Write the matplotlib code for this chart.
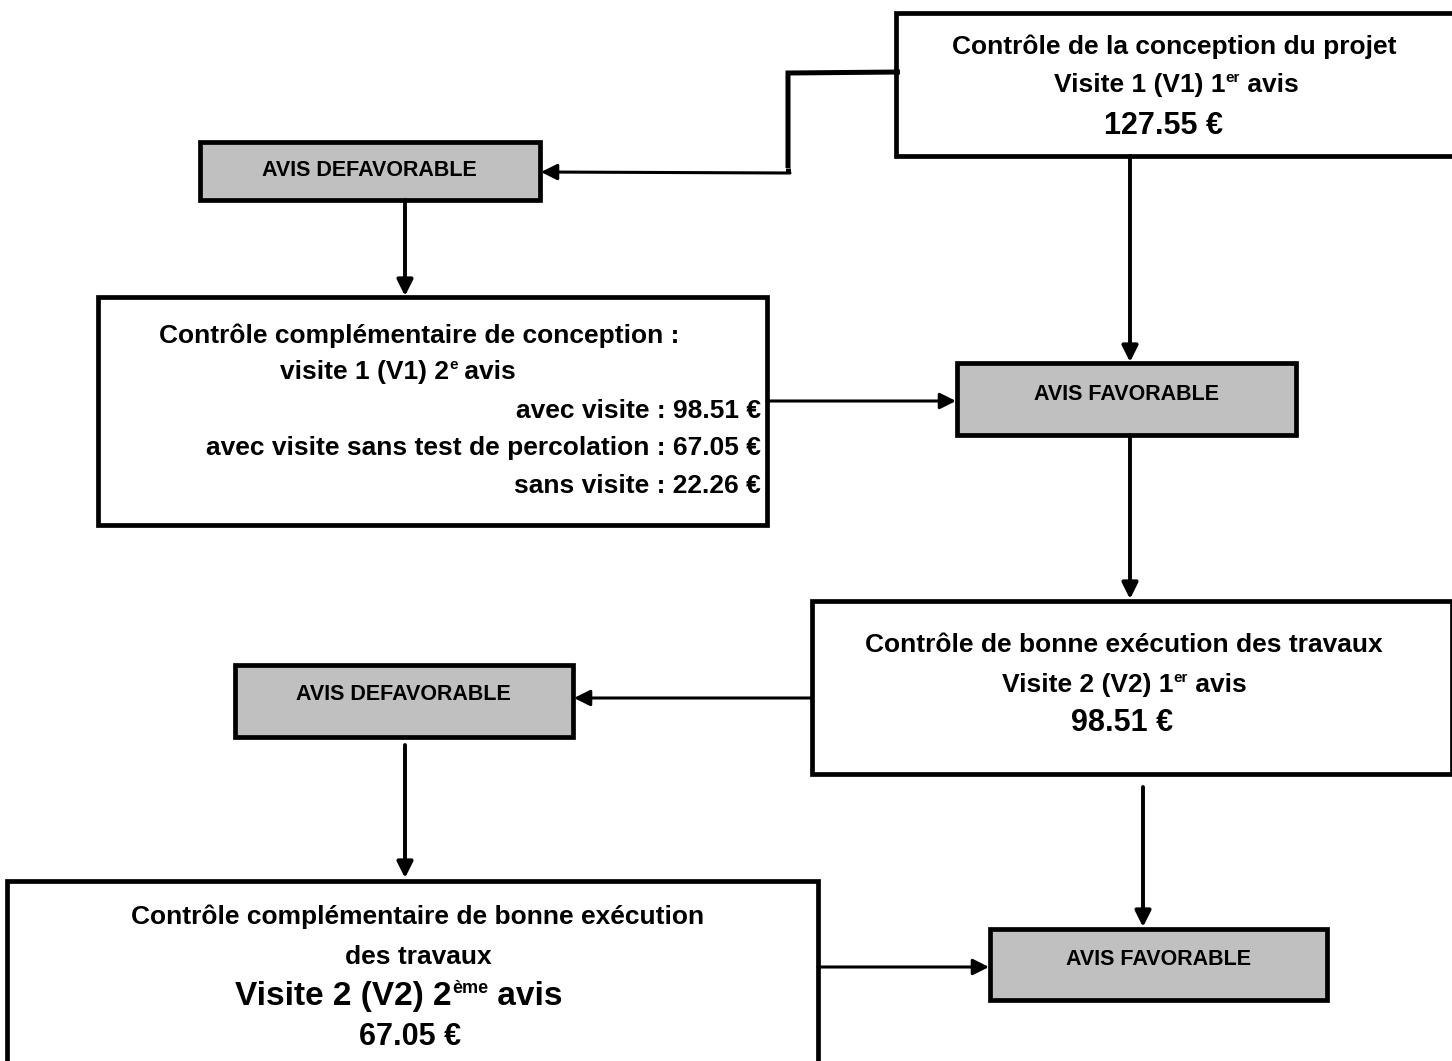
import matplotlib
matplotlib.use("Agg")
import matplotlib.pyplot as plt
from matplotlib.patches import Rectangle

# ---- data (texts and prices) ----
prix_v1_1er = "127.55 €"
prix_v1_2e_avec = "98.51 €"
prix_v1_2e_sans_perco = "67.05 €"
prix_v1_2e_sans = "22.26 €"
prix_v2_1er = "98.51 €"
prix_v2_2e = "67.05 €"
label_def = "AVIS DEFAVORABLE"
label_fav = "AVIS FAVORABLE"

FONT = ["Liberation Sans Narrow", "Liberation Sans", "DejaVu Sans"]
plt.rcParams["font.family"] = FONT
plt.rcParams["font.weight"] = "bold"

W, H = 1452, 1061
fig = plt.figure(figsize=(W / 100, H / 100), dpi=100)
ax = fig.add_axes([0, 0, 1, 1])
ax.set_xlim(0, W)
ax.set_ylim(H, 0)
ax.axis("off")

BOX_LW = 3.4
renderer = fig.canvas.get_renderer()


def box(x0, y0, x1, y1, gray=False):
    ax.add_patch(Rectangle((x0, y0), x1 - x0, y1 - y0,
                           facecolor="#c0c0c0" if gray else "white",
                           edgecolor="black", lw=BOX_LW, zorder=2))


def rich_line(x, y, segments, ha="center"):
    """segments: list of (text, size, is_sup)"""
    arts = []
    widths = []
    for txt, size, sup in segments:
        t = ax.text(0, y, txt, fontsize=size, fontweight="bold", ha="left",
                    va="baseline", zorder=5, family=FONT)
        bb = t.get_window_extent(renderer=renderer)
        arts.append((t, sup, size))
        widths.append(bb.width)
    total = sum(widths)
    if ha == "center":
        start = x - total / 2
    elif ha == "right":
        start = x - total
    else:
        start = x
    cx = start
    for (t, sup, size), w in zip(arts, widths):
        yy = y - (size * 0.9 if sup else 0)
        t.set_position((cx, yy))
        cx += w


def arrow(x0, y0, x1, y1, lw=2.8):
    ax.annotate("", xy=(x1, y1), xytext=(x0, y0),
                arrowprops=dict(arrowstyle="-|>", color="black", lw=lw,
                                mutation_scale=24, shrinkA=0, shrinkB=0),
                zorder=3)


def line(xs, ys, lw=3.6):
    ax.plot(xs, ys, color="black", lw=lw, solid_capstyle="butt",
            solid_joinstyle="miter", zorder=3)


S = 19     # normal text
B = 22     # big text (prices)
B2 = 24    # big text (Visite 2 2eme avis)
A = 15.5   # AVIS labels
SUP = 11

# ---- box 1 : top right ----
box(896, 13, 1460, 156)
rich_line(1174, 54, [("Contrôle de la conception du projet", S, False)])
rich_line(1176, 92, [("Visite 1 (V1) 1", S, False), ("er", SUP, True), (" avis", S, False)])
rich_line(1163, 134, [(prix_v1_1er, B, False)])

# connector to AVIS DEFAVORABLE 1
line([900, 788, 788], [72, 73, 168])
line([788, 788], [168, 173])
arrow(790, 173, 541, 172, lw=2.2)

# ---- AVIS DEFAVORABLE 1 ----
box(200, 142, 540, 200, gray=True)
rich_line(369, 176, [(label_def, A, False)])
arrow(405, 200, 405, 296)

# ---- box 2 ----
box(98, 297, 767, 525)
rich_line(419, 343, [("Contrôle complémentaire de conception :", S, False)])
rich_line(398, 379, [("visite 1 (V1) 2", S, False), ("e", SUP, True), (" avis", S, False)])
rich_line(761, 418, [("avec visite : " + prix_v1_2e_avec, S, False)], ha="right")
rich_line(761, 455, [("avec visite sans test de percolation : " + prix_v1_2e_sans_perco, S, False)], ha="right")
rich_line(761, 493, [("sans visite : " + prix_v1_2e_sans, S, False)], ha="right")
arrow(767, 401, 956, 401, lw=2.2)

# vertical from box 1 to AVIS FAVORABLE 1
arrow(1130, 156, 1130, 362)

# ---- AVIS FAVORABLE 1 ----
box(957, 363, 1296, 435, gray=True)
rich_line(1126, 400, [(label_fav, A, False)])
arrow(1130, 435, 1130, 599)

# ---- box 3 ----
box(812, 601, 1452, 774)
rich_line(1124, 652, [("Contrôle de bonne exécution des travaux", S, False)])
rich_line(1124, 692, [("Visite 2 (V2) 1", S, False), ("er", SUP, True), (" avis", S, False)])
rich_line(1122, 731, [(prix_v2_1er, B, False)])
arrow(812, 698, 574, 698, lw=2.2)

# ---- AVIS DEFAVORABLE 2 ----
box(235, 665, 573, 737, gray=True)
rich_line(403, 700, [(label_def, A, False)])
arrow(405, 745, 405, 878)

# ---- box 4 ----
box(7, 881, 818, 1075)
rich_line(418, 924, [("Contrôle complémentaire de bonne exécution", S, False)])
rich_line(418, 964, [("des travaux", S, False)])
rich_line(399, 1005, [("Visite 2 (V2) 2", B2, False), ("ème", SUP + 2, True), (" avis", B2, False)])
rich_line(410, 1045, [(prix_v2_2e, B, False)])
arrow(818, 967, 989, 967, lw=2.2)

# vertical from box 3 to AVIS FAVORABLE 2
arrow(1143, 787, 1143, 927)

# ---- AVIS FAVORABLE 2 ----
box(990, 929, 1327, 1000, gray=True)
rich_line(1158, 965, [(label_fav, A, False)])

fig.savefig("out.png", dpi=100)
